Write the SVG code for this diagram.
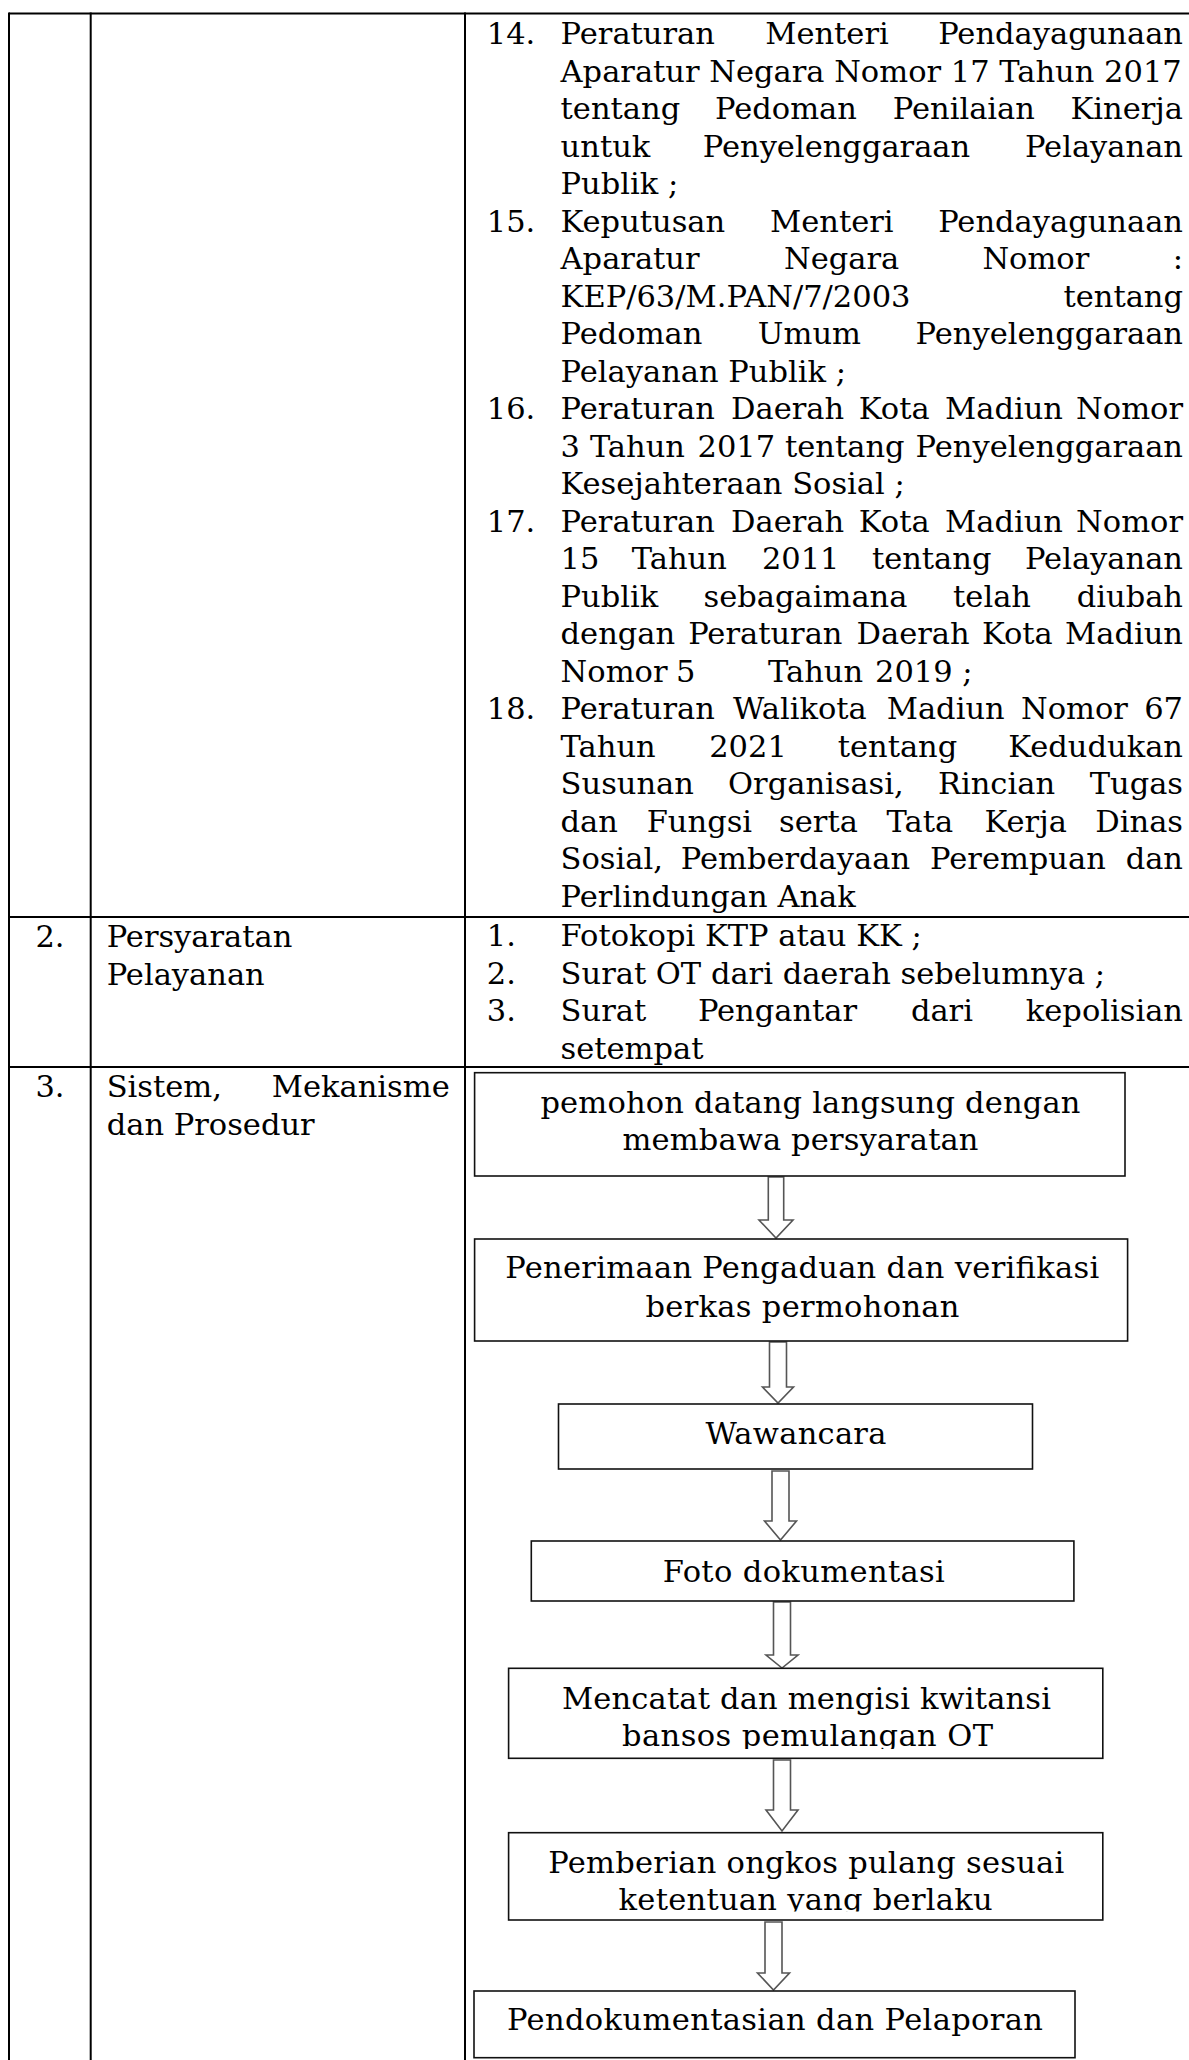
<svg xmlns="http://www.w3.org/2000/svg" width="1189" height="2060" viewBox="0 0 1189 2060">
  <style>
    .t { font-family: "DejaVu Serif", "Liberation Serif", serif; font-size: 30.5px; fill: #000; }
    .e { text-anchor: end; }
    .m { text-anchor: middle; }
    .grid { stroke: #000; stroke-width: 2; fill: none; }
    .box { fill: #fff; stroke: #111; stroke-width: 1.6; }
    .arrow { fill: #fff; stroke: #555; stroke-width: 1.6; stroke-linejoin: miter; }
  </style>
  <defs>
    <clipPath id="clip-box5"><rect x="508" y="1668" width="596" height="81"/></clipPath>
    <clipPath id="clip-box6"><rect x="508" y="1832" width="596" height="79.5"/></clipPath>
  </defs>
  <rect width="1189" height="2060" fill="#fff"/>

  <!-- table grid -->
  <g id="table-grid" class="grid">
    <path d="M9 13.5 H1189"/>
    <path d="M9 12.5 V2060"/>
    <path d="M90.7 12.5 V2060"/>
    <path d="M465 12.5 V2060"/>
    <path d="M9 917 H1189"/>
    <path d="M9 1067 H1189"/>
  </g>

  <!-- row 1: legal basis, items 14-18 (justified lines: last word right-aligned) -->
  <g id="row-1-dasar-hukum">
    <text class="t" y="44"><tspan x="486.8">14.</tspan><tspan x="560.6">Peraturan</tspan><tspan x="765.2">Menteri</tspan></text>
    <text class="t e" x="1183" y="44">Pendayagunaan</text>
    <text class="t" x="560.6" y="81.5">Aparatur Negara Nomor 17 Tahun 2017</text>
    <text class="t" y="119"><tspan x="560.6">tentang</tspan><tspan x="715.1">Pedoman</tspan><tspan x="892.8">Penilaian</tspan></text>
    <text class="t e" x="1183" y="119">Kinerja</text>
    <text class="t" y="156.5"><tspan x="560.6">untuk</tspan><tspan x="702.8">Penyelenggaraan</tspan></text>
    <text class="t e" x="1183" y="156.5">Pelayanan</text>
    <text class="t" x="560.6" y="194">Publik ;</text>

    <text class="t" y="231.5"><tspan x="486.8">15.</tspan><tspan x="560.6">Keputusan</tspan><tspan x="770">Menteri</tspan></text>
    <text class="t e" x="1183" y="231.5">Pendayagunaan</text>
    <text class="t" y="269"><tspan x="560.6">Aparatur</tspan><tspan x="784">Negara</tspan><tspan x="982.4">Nomor</tspan></text>
    <text class="t e" x="1183" y="269">:</text>
    <text class="t" x="560.6" y="306.5">KEP/63/M.PAN/7/2003</text>
    <text class="t e" x="1183" y="306.5">tentang</text>
    <text class="t" y="344"><tspan x="560.6">Pedoman</tspan><tspan x="757.8">Umum</tspan></text>
    <text class="t e" x="1183" y="344">Penyelenggaraan</text>
    <text class="t" x="560.6" y="381.5">Pelayanan Publik ;</text>

    <text class="t" y="419"><tspan x="486.8">16.</tspan><tspan x="560.6">Peraturan</tspan><tspan x="731">Daerah</tspan><tspan x="858.8">Kota</tspan><tspan x="945">Madiun</tspan></text>
    <text class="t e" x="1183" y="419">Nomor</text>
    <text class="t" y="456.5"><tspan x="560.6">3</tspan><tspan x="589.9">Tahun</tspan><tspan x="697.5">2017</tspan><tspan x="785">tentang</tspan></text>
    <text class="t e" x="1183" y="456.5">Penyelenggaraan</text>
    <text class="t" x="560.6" y="494">Kesejahteraan Sosial ;</text>

    <text class="t" y="531.5"><tspan x="486.8">17.</tspan><tspan x="560.6">Peraturan</tspan><tspan x="731">Daerah</tspan><tspan x="858.8">Kota</tspan><tspan x="945">Madiun</tspan></text>
    <text class="t e" x="1183" y="531.5">Nomor</text>
    <text class="t" y="569"><tspan x="560.6">15</tspan><tspan x="631.8">Tahun</tspan><tspan x="761.9">2011</tspan><tspan x="871.9">tentang</tspan></text>
    <text class="t e" x="1183" y="569">Pelayanan</text>
    <text class="t" y="606.5"><tspan x="560.6">Publik</tspan><tspan x="703.6">sebagaimana</tspan><tspan x="953.1">telah</tspan></text>
    <text class="t e" x="1183" y="606.5">diubah</text>
    <text class="t" y="644"><tspan x="560.6">dengan</tspan><tspan x="688.2">Peraturan</tspan><tspan x="856.5">Daerah</tspan><tspan x="982">Kota</tspan></text>
    <text class="t e" x="1183" y="644">Madiun</text>
    <text class="t" y="681.5"><tspan x="560.6">Nomor</tspan><tspan x="676">5</tspan><tspan x="768">Tahun</tspan><tspan x="875">2019 ;</tspan></text>

    <text class="t" y="719"><tspan x="486.8">18.</tspan><tspan x="560.6">Peraturan</tspan><tspan x="733.1">Walikota</tspan><tspan x="886.7">Madiun</tspan><tspan x="1021">Nomor</tspan></text>
    <text class="t e" x="1183" y="719">67</text>
    <text class="t" y="756.5"><tspan x="560.6">Tahun</tspan><tspan x="709.2">2021</tspan><tspan x="837.7">tentang</tspan></text>
    <text class="t e" x="1183" y="756.5">Kedudukan</text>
    <text class="t" y="794"><tspan x="560.6">Susunan</tspan><tspan x="728.1">Organisasi,</tspan><tspan x="938">Rincian</tspan></text>
    <text class="t e" x="1183" y="794">Tugas</text>
    <text class="t" y="831.5"><tspan x="560.6">dan</tspan><tspan x="646.7">Fungsi</tspan><tspan x="779.1">serta</tspan><tspan x="886.6">Tata</tspan><tspan x="984.6">Kerja</tspan></text>
    <text class="t e" x="1183" y="831.5">Dinas</text>
    <text class="t" y="869"><tspan x="560.6">Sosial,</tspan><tspan x="680.8">Pemberdayaan</tspan><tspan x="930.1">Perempuan</tspan></text>
    <text class="t e" x="1183" y="869">dan</text>
    <text class="t" x="560.6" y="906.5">Perlindungan Anak</text>
  </g>

  <!-- row 2: requirements -->
  <g id="row-2-persyaratan">
    <text class="t m" x="50" y="946.5">2.</text>
    <text class="t" x="106.7" y="946.5">Persyaratan</text>
    <text class="t" x="106.7" y="984.5">Pelayanan</text>
    <text class="t" y="946"><tspan x="486.8">1.</tspan><tspan x="560.6">Fotokopi KTP atau KK ;</tspan></text>
    <text class="t" y="983.5"><tspan x="486.8">2.</tspan><tspan x="560.6">Surat OT dari daerah sebelumnya ;</tspan></text>
    <text class="t" y="1021"><tspan x="486.8">3.</tspan><tspan x="560.6">Surat</tspan><tspan x="697.9">Pengantar</tspan><tspan x="910.9">dari</tspan></text>
    <text class="t e" x="1183" y="1021">kepolisian</text>
    <text class="t" x="560.6" y="1058.5">setempat</text>
  </g>

  <!-- row 3: system, mechanism and procedure -->
  <g id="row-3-prosedur">
    <text class="t m" x="50" y="1096.5">3.</text>
    <text class="t" x="106.7" y="1096.5">Sistem,</text>
    <text class="t e" x="449.7" y="1096.5">Mekanisme</text>
    <text class="t" x="106.7" y="1135">dan Prosedur</text>
  </g>

  <!-- flowchart connectors: hollow block arrows -->
  <g id="connectors">
    <polygon class="arrow" points="768.3,1177 783.7,1177 783.7,1220 793,1220 776,1238 759,1220 768.3,1220"/>
    <polygon class="arrow" points="769.5,1342 786.5,1342 786.5,1387 793.5,1387 778,1403 762.5,1387 769.5,1387"/>
    <polygon class="arrow" points="772,1471 789,1471 789,1521 796.5,1521 780.5,1540 764.5,1521 772,1521"/>
    <polygon class="arrow" points="773.5,1602 790.5,1602 790.5,1655 798,1655 782,1668 766,1655 773.5,1655"/>
    <polygon class="arrow" points="773.5,1760 790.5,1760 790.5,1810 798,1810 782,1831 766,1810 773.5,1810"/>
    <polygon class="arrow" points="765,1922 782,1922 782,1973 789.5,1973 773.5,1990 757.5,1973 765,1973"/>
  </g>

  <!-- flowchart steps -->
  <g id="step-1">
    <rect class="box" x="474.6" y="1072.7" width="650.4" height="103.3"/>
    <text class="t" x="540.4" y="1113" textLength="540" lengthAdjust="spacing">pemohon datang langsung dengan</text>
    <text class="t" x="622.5" y="1150" textLength="356" lengthAdjust="spacing">membawa persyaratan</text>
  </g>
  <g id="step-2">
    <rect class="box" x="474.6" y="1239" width="653" height="102"/>
    <text class="t" x="505.2" y="1278" textLength="594" lengthAdjust="spacing">Penerimaan Pengaduan dan verifikasi</text>
    <text class="t" x="645.5" y="1316.7" textLength="314" lengthAdjust="spacing">berkas permohonan</text>
  </g>
  <g id="step-3">
    <rect class="box" x="558.5" y="1404" width="474" height="65"/>
    <text class="t" x="705.4" y="1444" textLength="181" lengthAdjust="spacing">Wawancara</text>
  </g>
  <g id="step-4">
    <rect class="box" x="531.3" y="1541" width="542.6" height="60"/>
    <text class="t" x="662.8" y="1581.7" textLength="282" lengthAdjust="spacing">Foto dokumentasi</text>
  </g>
  <g id="step-5">
    <rect class="box" x="508.6" y="1668.3" width="594.2" height="90"/>
    <text class="t" x="561.9" y="1709.3" textLength="489" lengthAdjust="spacing">Mencatat dan mengisi kwitansi</text>
    <text class="t" x="622" y="1746" textLength="371" lengthAdjust="spacing" clip-path="url(#clip-box5)">bansos pemulangan OT</text>
  </g>
  <g id="step-6">
    <rect class="box" x="508.6" y="1832.7" width="594.2" height="87.3"/>
    <text class="t" x="548.3" y="1873" textLength="516" lengthAdjust="spacing">Pemberian ongkos pulang sesuai</text>
    <text class="t" x="618.6" y="1909.5" textLength="374" lengthAdjust="spacing" clip-path="url(#clip-box6)">ketentuan yang berlaku</text>
  </g>
  <g id="step-7">
    <rect class="box" x="474" y="1991" width="601" height="66.7"/>
    <text class="t" x="507" y="2030" textLength="536" lengthAdjust="spacing">Pendokumentasian dan Pelaporan</text>
  </g>
</svg>
